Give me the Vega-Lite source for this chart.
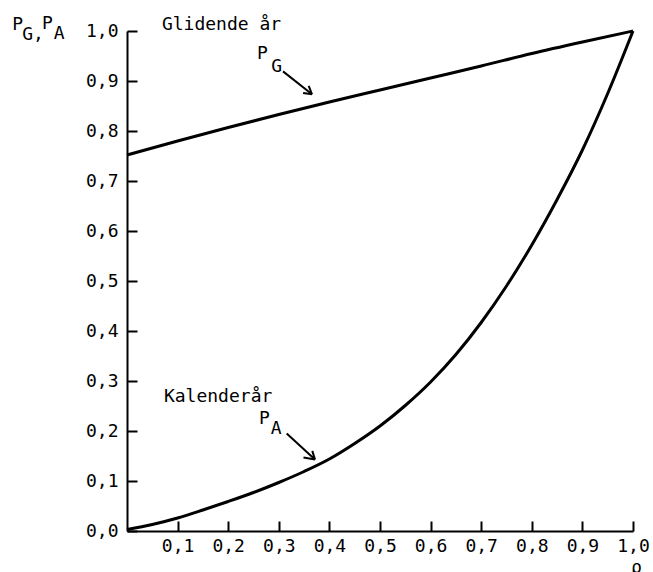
{
  "$schema": "https://vega.github.io/schema/vega-lite/v6.json",
  "width": 506,
  "height": 500,
  "autosize": {"type": "none"},
  "padding": {"left": 127, "top": 31, "right": 20, "bottom": 41},
  "background": "white",
  "config": {
    "view": {"stroke": null},
    "font": "DejaVu Sans Mono",
    "text": {"font": "DejaVu Sans Mono"}
  },
  "datasets": {
    "curves": [
      {"series": "PG", "rho": 0.0, "p": 0.752},
      {"series": "PG", "rho": 0.1, "p": 0.78},
      {"series": "PG", "rho": 0.2, "p": 0.807},
      {"series": "PG", "rho": 0.3, "p": 0.833},
      {"series": "PG", "rho": 0.4, "p": 0.858},
      {"series": "PG", "rho": 0.5, "p": 0.882},
      {"series": "PG", "rho": 0.6, "p": 0.906},
      {"series": "PG", "rho": 0.7, "p": 0.93},
      {"series": "PG", "rho": 0.8, "p": 0.955},
      {"series": "PG", "rho": 0.9, "p": 0.978},
      {"series": "PG", "rho": 1.0, "p": 1.0},
      {"series": "PA", "rho": 0.0, "p": 0.003},
      {"series": "PA", "rho": 0.05, "p": 0.013},
      {"series": "PA", "rho": 0.1, "p": 0.026},
      {"series": "PA", "rho": 0.15, "p": 0.042},
      {"series": "PA", "rho": 0.2, "p": 0.059},
      {"series": "PA", "rho": 0.25, "p": 0.077},
      {"series": "PA", "rho": 0.3, "p": 0.097},
      {"series": "PA", "rho": 0.35, "p": 0.119},
      {"series": "PA", "rho": 0.4, "p": 0.144},
      {"series": "PA", "rho": 0.45, "p": 0.175},
      {"series": "PA", "rho": 0.5, "p": 0.21},
      {"series": "PA", "rho": 0.55, "p": 0.251},
      {"series": "PA", "rho": 0.6, "p": 0.298},
      {"series": "PA", "rho": 0.65, "p": 0.353},
      {"series": "PA", "rho": 0.7, "p": 0.417},
      {"series": "PA", "rho": 0.75, "p": 0.49},
      {"series": "PA", "rho": 0.8, "p": 0.572},
      {"series": "PA", "rho": 0.85, "p": 0.663},
      {"series": "PA", "rho": 0.9, "p": 0.762},
      {"series": "PA", "rho": 0.95, "p": 0.875},
      {"series": "PA", "rho": 1.0, "p": 1.0}
    ],
    "arrows": [
      {"x": 0.3083, "y": 0.9192, "x2": 0.3656, "y2": 0.8734},
      {"x": 0.3591, "y": 0.8901, "x2": 0.3656, "y2": 0.8734},
      {"x": 0.348, "y": 0.876, "x2": 0.3656, "y2": 0.8734},
      {"x": 0.3156, "y": 0.1949, "x2": 0.3715, "y2": 0.1431},
      {"x": 0.3662, "y": 0.1603, "x2": 0.3715, "y2": 0.1431},
      {"x": 0.3488, "y": 0.1472, "x2": 0.3715, "y2": 0.1431}
    ],
    "labels": [
      {"label": "Glidende år", "x": 0.069, "y": 1.0015},
      {"label": "Kalenderår", "x": 0.073, "y": 0.259},
      {"label": "P", "x": 0.257, "y": 0.945},
      {"label": "G", "x": 0.285, "y": 0.919},
      {"label": "P", "x": 0.261, "y": 0.2148},
      {"label": "A", "x": 0.284, "y": 0.1948},
      {"label": "P", "x": -0.227, "y": 1.003},
      {"label": "G,", "x": -0.207, "y": 0.983},
      {"label": "P", "x": -0.168, "y": 1.005},
      {"label": "A", "x": -0.145, "y": 0.985},
      {"label": "ρ", "x": 0.996, "y": -0.084}
    ]
  },
  "resolve": {"axis": {"x": "independent", "y": "independent"}},
  "layer": [
    {
      "data": {"name": "curves"},
      "mark": {"type": "line", "color": "black", "strokeWidth": 3, "interpolate": "monotone"},
      "encoding": {
        "x": {
          "field": "rho", "type": "quantitative",
          "scale": {"domain": [0, 1], "nice": false, "zero": false},
          "axis": {
            "title": null, "grid": false,
            "values": [0.1, 0.2, 0.3, 0.4, 0.5, 0.6, 0.7, 0.8, 0.9, 1.0],
            "labelExpr": "replace(format(datum.value, '.1f'), '.', ',')",
            "tickSize": -10, "tickWidth": 2, "tickColor": "black",
            "domainColor": "black", "domainWidth": 2,
            "labelFont": "DejaVu Sans Mono", "labelFontSize": 18, "labelColor": "black",
            "labelPadding": 16, "labelFlush": false, "labelOverlap": false
          }
        },
        "y": {
          "field": "p", "type": "quantitative",
          "scale": {"domain": [0, 1], "nice": false, "zero": false},
          "axis": {
            "title": null, "grid": false,
            "values": [0, 0.1, 0.2, 0.3, 0.4, 0.5, 0.6, 0.7, 0.8, 0.9, 1.0],
            "labelExpr": "replace(format(datum.value, '.1f'), '.', ',')",
            "tickSize": -10, "tickWidth": 2, "tickColor": "black",
            "domainColor": "black", "domainWidth": 2,
            "labelFont": "DejaVu Sans Mono", "labelFontSize": 18, "labelColor": "black",
            "labelPadding": 19, "labelFlush": false, "labelOverlap": false
          }
        },
        "detail": {"field": "series", "type": "nominal"}
      }
    },
    {
      "data": {"name": "arrows"},
      "mark": {"type": "rule", "color": "black", "strokeWidth": 2},
      "encoding": {
        "x": {"field": "x", "type": "quantitative", "scale": {"domain": [0, 1], "nice": false, "zero": false}, "axis": null},
        "y": {"field": "y", "type": "quantitative", "scale": {"domain": [0, 1], "nice": false, "zero": false}, "axis": null},
        "x2": {"field": "x2"},
        "y2": {"field": "y2"}
      }
    },
    {
      "data": {"name": "labels"},
      "mark": {"type": "text", "align": "left", "baseline": "alphabetic", "fontSize": 18, "color": "black", "font": "DejaVu Sans Mono"},
      "encoding": {
        "x": {"field": "x", "type": "quantitative", "scale": {"domain": [0, 1], "nice": false, "zero": false}, "axis": null},
        "y": {"field": "y", "type": "quantitative", "scale": {"domain": [0, 1], "nice": false, "zero": false}, "axis": null},
        "text": {"field": "label", "type": "nominal"}
      }
    }
  ]
}
